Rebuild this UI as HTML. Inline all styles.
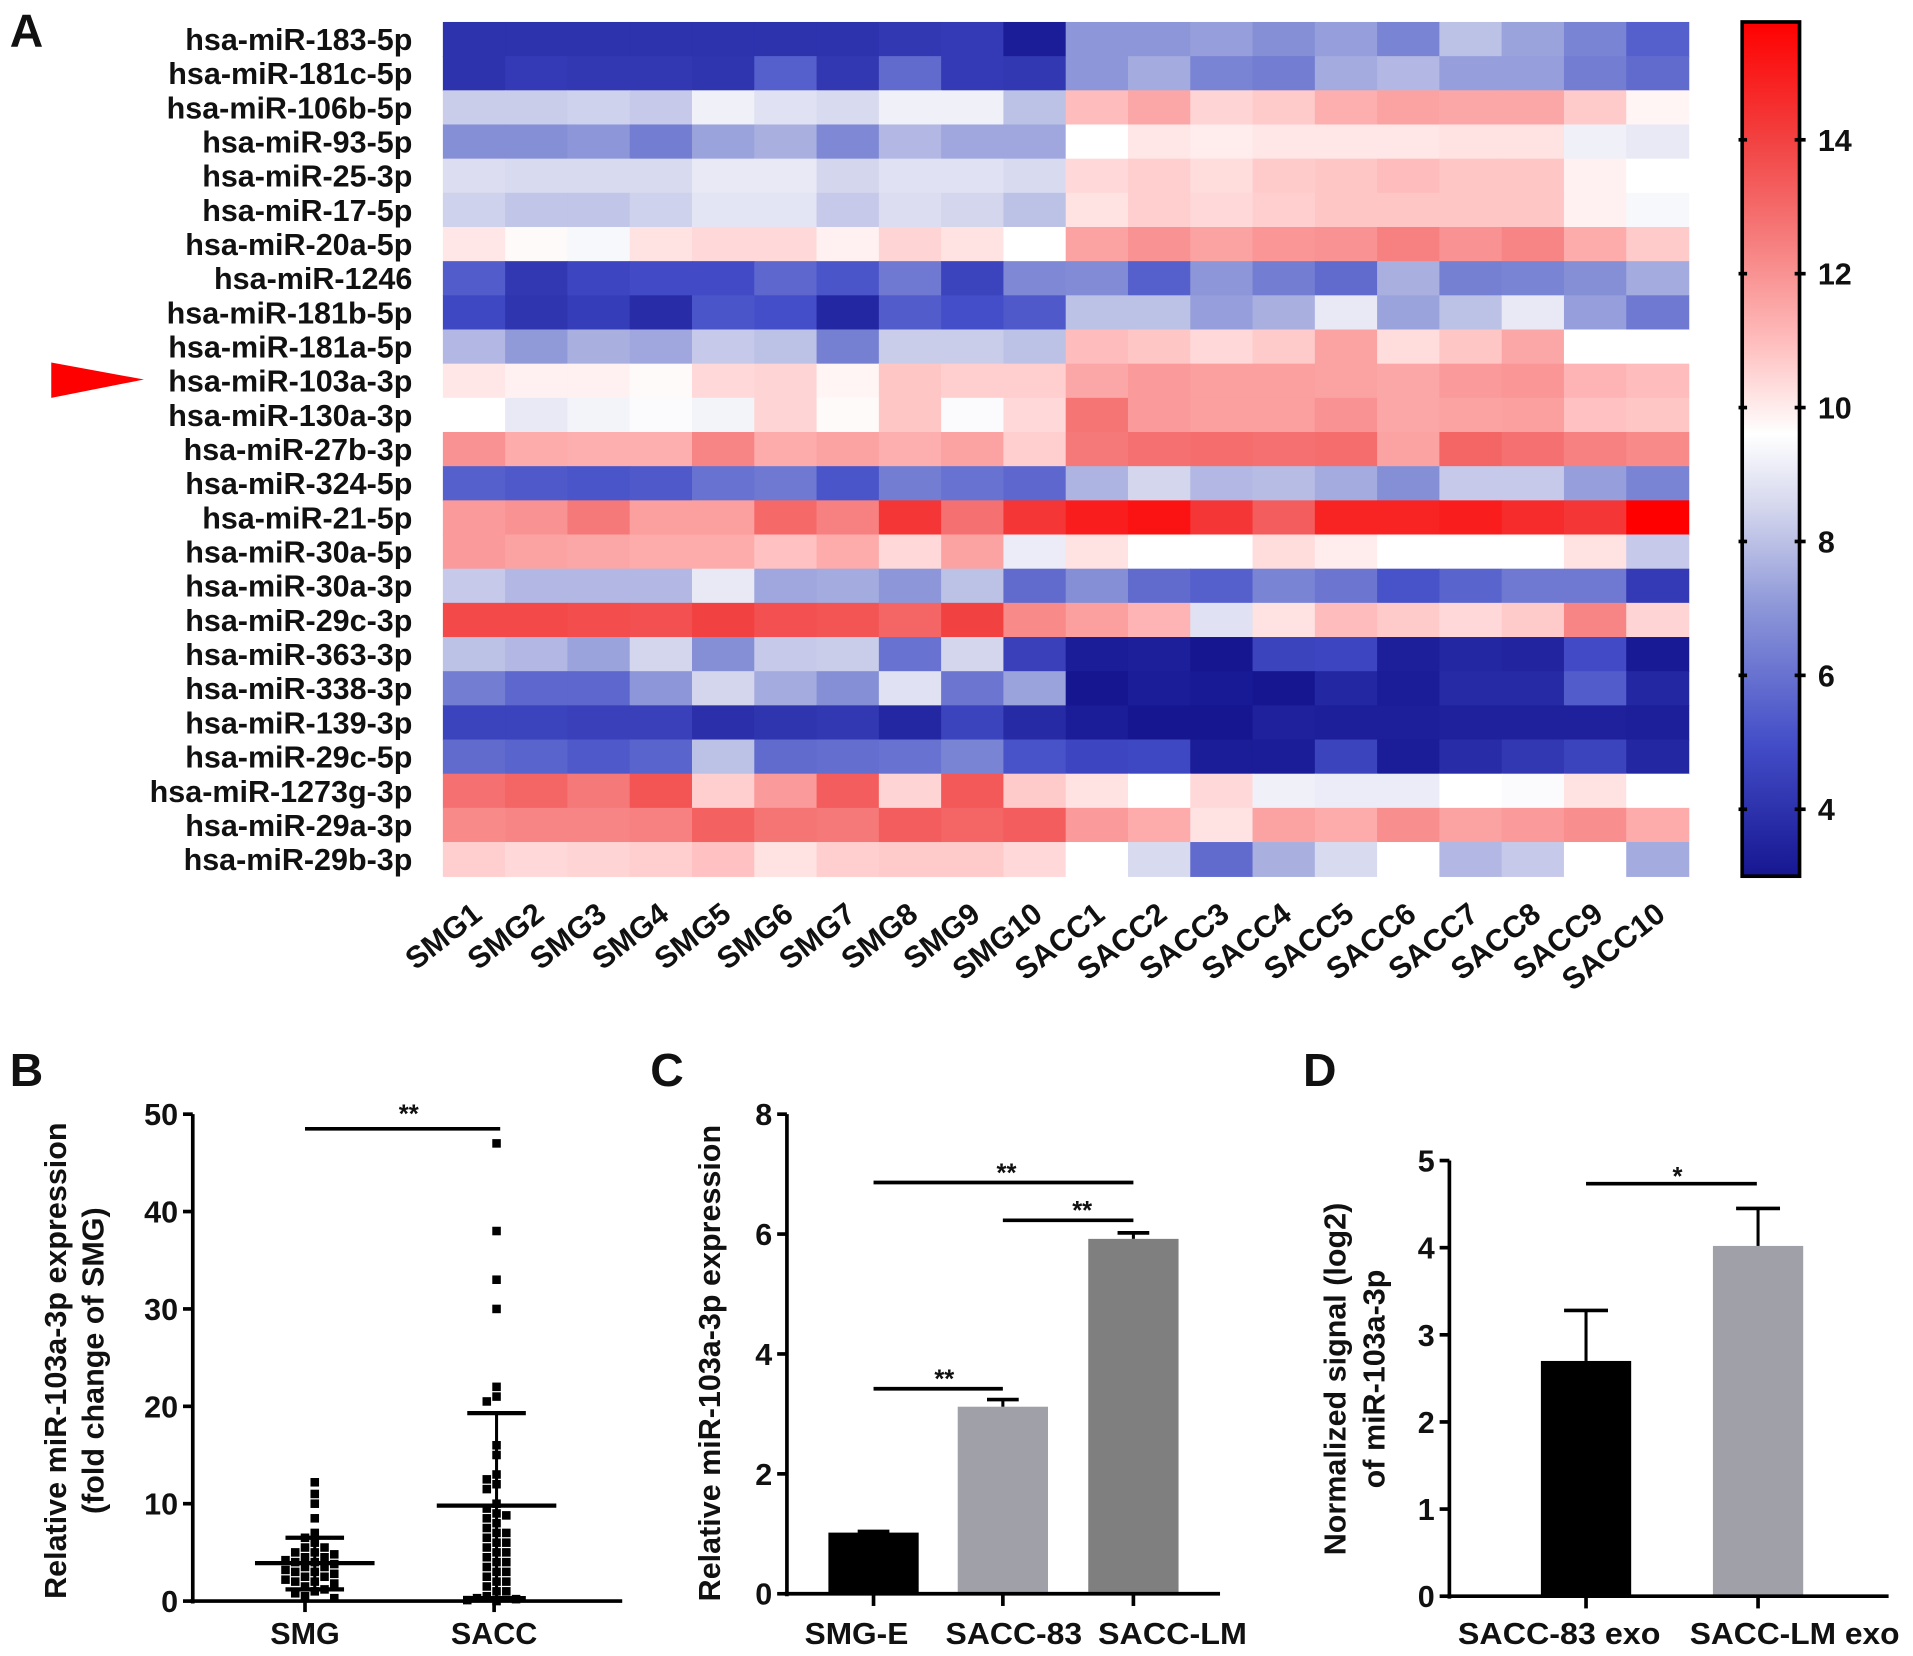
<!DOCTYPE html>
<html><head><meta charset="utf-8"><style>
html,body{margin:0;padding:0;background:#fff}
svg{display:block;font-family:"Liberation Sans",Arial,sans-serif}
</style></head><body>
<svg id="fig" width="1913" height="1656" viewBox="0 0 1568 1357" preserveAspectRatio="none" xmlns="http://www.w3.org/2000/svg"></svg>
<script>
const rowLabels=["hsa-miR-183-5p","hsa-miR-181c-5p","hsa-miR-106b-5p","hsa-miR-93-5p","hsa-miR-25-3p","hsa-miR-17-5p","hsa-miR-20a-5p","hsa-miR-1246","hsa-miR-181b-5p","hsa-miR-181a-5p","hsa-miR-103a-3p","hsa-miR-130a-3p","hsa-miR-27b-3p","hsa-miR-324-5p","hsa-miR-21-5p","hsa-miR-30a-5p","hsa-miR-30a-3p","hsa-miR-29c-3p","hsa-miR-363-3p","hsa-miR-338-3p","hsa-miR-139-3p","hsa-miR-29c-5p","hsa-miR-1273g-3p","hsa-miR-29a-3p","hsa-miR-29b-3p"];
const colLabels=["SMG1","SMG2","SMG3","SMG4","SMG5","SMG6","SMG7","SMG8","SMG9","SMG10","SACC1","SACC2","SACC3","SACC4","SACC5","SACC6","SACC7","SACC8","SACC9","SACC10"];
const heat=[
[4,4,4,4,4,4,4,4.2,4.3,3.2,7,7,7.2,6.8,7.2,6.5,8,7.3,6.5,5.5],
[4,4.3,4.2,4.2,4.1,5.5,4.2,5.8,4.3,4.2,7,7.5,6.5,6.3,7.5,7.8,7.2,7.2,6.3,5.8],
[8.3,8.3,8.4,8.2,9.2,8.8,8.6,9.2,9.2,8,11,11.5,10.5,10.7,11.3,11.6,11.5,11.5,10.7,9.8],
[6.8,6.8,7,6.3,7.3,7.6,6.6,7.8,7.4,7.4,9.6,10.1,10,10.1,10.1,10.1,10.2,10.2,9.2,9],
[8.7,8.6,8.6,8.6,9,9,8.5,8.8,8.8,8.6,10.4,10.6,10.3,10.7,10.8,11,10.8,10.8,9.9,9.6],
[8.4,8.1,8.1,8.4,8.9,8.9,8.2,8.7,8.5,8,10.2,10.6,10.4,10.6,10.8,10.8,10.8,10.8,9.9,9.4],
[10.1,9.7,9.4,10.2,10.4,10.4,9.9,10.5,10.2,9.6,11.6,12,11.6,11.9,12,12.4,12,12.3,11.4,10.7],
[5.4,4.2,4.7,4.9,4.9,5.7,5.2,6.2,4.6,6.6,6.7,5.5,7,6.3,5.8,7.6,6.4,6.5,6.8,7.5],
[4.8,4.1,4.4,3.8,5.2,5,3.6,5.4,5,5.3,8,8,7.2,7.6,9,7.3,8,9,7.2,6.2],
[7.8,7.1,7.6,7.4,8.2,8,6.4,8.3,8.3,8,11,10.8,10.4,10.7,11.6,10.3,10.8,11.5,9.6,9.6],
[10.1,9.9,9.9,9.7,10.4,10.5,9.8,10.8,10.6,10.6,11.5,11.8,11.7,11.7,11.6,11.5,11.8,11.9,11.2,11],
[9.6,9,9.3,9.5,9.3,10.5,9.7,10.8,9.5,10.4,12.7,11.8,11.7,11.7,12,11.5,11.6,11.7,10.9,10.8],
[12,11.4,11.3,11.3,12.3,11.4,11.6,11.3,11.6,10.6,12.6,12.8,12.9,12.8,12.9,11.6,13.1,12.8,12.4,12.2],
[5.5,5.3,5.2,5.3,6,6.2,5.2,6.3,6,5.7,7.7,8.5,7.8,7.9,7.5,6.8,8.2,8.2,7.2,6.5],
[11.8,12,12.6,11.7,11.7,13,12.4,14.3,12.8,14.3,15,15.3,14.3,13.3,14.8,14.8,15,14.6,14.3,15.8],
[11.8,11.6,11.5,11.4,11.4,10.9,11.4,10.4,11.6,9.1,10.2,9.6,9.6,10.3,10,9.6,9.6,9.6,10.2,8.2],
[8.2,7.8,7.8,7.8,9,7.4,7.5,7,8,5.8,6.8,5.8,5.5,6.5,6.1,5.1,5.6,6.2,6.2,4.3],
[13.8,13.8,13.7,13.6,14,13.6,13.5,13.1,14,12.2,11.7,11.2,8.8,10.2,11,10.7,10.4,10.7,12.3,10.5],
[8,7.8,7.3,8.5,6.8,8.2,8.3,6,8.5,4.5,3.2,3.3,3,4.6,4.7,3.3,3.6,3.5,4.9,3.1],
[6.3,5.7,5.7,7,8.5,7.5,6.8,8.8,6.1,7.3,3,3.2,3.1,3,3.6,3.2,3.7,3.7,5.4,3.6],
[4.6,4.6,4.5,4.5,3.9,4.1,4.2,3.6,4.6,3.7,3.2,3,3,3.4,3.3,3.3,3.4,3.4,3.4,3.3],
[5.8,5.6,5.3,5.6,8,5.8,5.9,6,6.5,5.1,4.7,4.8,3.2,3.2,4.6,3.2,3.8,4.2,4.6,3.6],
[12.8,13.1,12.6,13.5,10.6,11.8,13.3,10.5,13.4,10.7,10.2,9.6,10.4,9.2,9.1,9.1,9.6,9.5,10.2,9.6],
[12.2,12.3,12.3,12.4,13.2,12.7,12.6,13.3,13.1,13.3,11.8,11.4,10.2,11.6,11.4,12.1,11.6,11.8,12.1,11.4],
[10.6,10.4,10.5,10.6,10.9,10.2,10.6,10.7,10.7,10.4,9.6,8.6,5.8,7.6,8.6,9.6,7.8,8.2,9.6,7.5]];
const cbTicks=[4,6,8,10,12,14];
const smgVals=[12.2,11,10,8.5,7,6.5,6,5.5,5.5,5,5,4.8,4.5,4.5,4.2,4,4,3.8,3.5,3.5,3.2,3,3,2.8,2.5,2.5,2.2,2,2,1.8,1.5,1.2,1,0.8,0.5,0.3];
const saccVals=[47,38,33,30,22,21,20.5,16,15,13,12.5,12,11.5,10,9.5,9,8.8,8.5,8,7.5,7,7,6.5,6,6,5.5,5,5,4.5,4,4,3.5,3,3,2.5,2,2,1.5,1,1,0.5,0.3,0.2,0.1,0];
const bStats=[{mean:3.9,lo:1.2,hi:6.5},{mean:9.8,lo:0.3,hi:19.3}];
const bTicks=[0,10,20,30,40,50];
const cCats=["SMG-E","SACC-83","SACC-LM"];
const cVals=[1.02,3.12,5.92];
const cErr=[0.02,0.12,0.1];
const cTicks=[0,2,4,6,8];
const dCats=["SACC-83 exo","SACC-LM exo"];
const dVals=[2.7,4.02];
const dErr=[0.58,0.43];
const dTicks=[0,1,2,3,4,5];

const svg=document.getElementById('fig');const NS="http://www.w3.org/2000/svg";
function el(t,a,txt){const e=document.createElementNS(NS,t);for(const k in a)e.setAttribute(k,a[k]);if(txt!==undefined)e.textContent=txt;svg.appendChild(e);return e;}
function line(x1,y1,x2,y2,w,name){const e=el('line',{x1,y1,x2,y2,stroke:'#000','stroke-width':w||3});

return e;}
function text(x,y,s,o,name){const a=Object.assign({x,y,'font-size':24,'font-weight':'bold',fill:'#111'},o||{});const e=el('text',a,s);

return e;}
const stops=[[3,[22,22,145]],[5,[68,78,200]],[7,[140,150,216]],[8.5,[212,214,237]],[9.6,[255,255,255]],[11,[255,188,188]],[12.5,[246,125,125]],[14,[242,65,65]],[15.8,[255,0,0]]];
function color(v){if(v<=stops[0][0])return 'rgb('+stops[0][1]+')';for(let i=1;i<stops.length;i++){if(v<=stops[i][0]){const t=(v-stops[i-1][0])/(stops[i][0]-stops[i-1][0]);const a=stops[i-1][1],b=stops[i][1];return 'rgb('+a.map((c,j)=>Math.round(c+(b[j]-c)*t)).join(',')+')';}}return 'rgb(255,0,0)';}
[['A',8,38],['B',8,890],['C',533,890],['D',1068,890]].forEach(p=>text(p[1],p[2],p[0],{'font-size':38},'panel-letter-'+p[0].toLowerCase()));
const hx0=363,hx1=1384,hy0=18,hy1=718;
const cw=(hx1-hx0)/colLabels.length,rh=(hy1-hy0)/rowLabels.length;
heat.forEach((row,r)=>row.forEach((v,c)=>{const e=el('rect',{x:hx0+c*cw,y:hy0+r*rh,width:cw+0.6,height:rh+0.6,fill:color(v)});

}));
rowLabels.forEach((s,r)=>text(338,hy0+r*rh+rh/2+9,s,{'text-anchor':'end','font-size':25},'row-label'));
colLabels.forEach((s,c)=>{const x=hx0+c*cw+cw/2+8,y=752;text(x,y,s,{'text-anchor':'end',transform:`rotate(-38 ${x} ${y})`,'font-size':25},'column-label');});
const ar=el('polygon',{points:'42,297 42,326 118,311',fill:'#f00'});


const cbx=1428,cbw=47,vmin=3,vmax=15.76;
const cby=v=>hy1-(v-vmin)/(vmax-vmin)*(hy1-hy0);
const defs=el('defs',{});const g=document.createElementNS(NS,'linearGradient');g.setAttribute('id','cbg');g.setAttribute('x1','0');g.setAttribute('y1','1');g.setAttribute('x2','0');g.setAttribute('y2','0');defs.appendChild(g);
stops.forEach(s=>{const st=document.createElementNS(NS,'stop');st.setAttribute('offset',Math.min(1,(s[0]-vmin)/(vmax-vmin)));st.setAttribute('stop-color',color(s[0]));g.appendChild(st);});
const cb=el('rect',{x:cbx,y:hy0,width:cbw,height:hy1-hy0,fill:'url(#cbg)',stroke:'#000','stroke-width':3});


cbTicks.forEach(t=>{const y=cby(t);line(cbx-3,y,cbx+4,y,3,'colorbar-tick');line(cbx+cbw-4,y,cbx+cbw+5,y,3,'colorbar-tick');text(1490,y+9,String(t),{'font-size':25},'colorbar-tick-label');});
// Panel B
const bx0=158,bxe=510,by0=1312,byT=913;
const bY=v=>by0-v/50*(by0-byT);
line(bx0,byT,bx0,by0+2,3,'b-y-axis');line(bx0-2,by0,bxe,by0,3,'b-x-axis');
bTicks.forEach(t=>{line(bx0-8,bY(t),bx0,bY(t),3,'b-y-tick');text(bx0-12,bY(t)+9,String(t),{'text-anchor':'end','font-size':25},'b-y-tick-label');});
const bCenters=[258,407];
[['SMG',250],['SACC',405]].forEach(p=>{line(p[1],by0,p[1],by0+9,3,'b-x-tick');text(p[1],1347,p[0],{'text-anchor':'middle','font-size':25},'b-x-label');});
[smgVals,saccVals].forEach((vals,gi)=>{const cx=bCenters[gi];const placed=[];
vals.forEach(v=>{const y=bY(v);let k=0,x=cx;const offs=[0,-8,8,-16,16,-24,24,-32,32,-40,40];
for(k=0;k<offs.length;k++){x=cx+offs[k];if(!placed.some(p=>Math.abs(p[0]-x)<7.5&&Math.abs(p[1]-y)<7.5))break;}
placed.push([x,y]);const e=el('rect',{x:x-3.5,y:y-3.5,width:7,height:7,fill:'#000'});

});
const s=bStats[gi];line(cx-49,bY(s.mean),cx+49,bY(s.mean),3.5,'mean-line');line(cx,bY(s.lo),cx,bY(s.hi),2.5,'sd-bar');line(cx-24,bY(s.lo),cx+24,bY(s.lo),3.5,'sd-cap');line(cx-24,bY(s.hi),cx+24,bY(s.hi),3.5,'sd-cap');});
line(250,925,410,925,3,'b-significance-bar');text(335,920,'**',{'text-anchor':'middle','font-size':21},'b-significance-label');
text(54,1115,'Relative miR-103a-3p expression',{'text-anchor':'middle',transform:'rotate(-90 54 1115)','font-size':25},'b-y-title');
text(85,1115,'(fold change of SMG)',{'text-anchor':'middle',transform:'rotate(-90 85 1115)','font-size':25},'b-y-title-2');
// Panel C
const cx0=645,cxe=1000,cy0=1306,cyT=913;const cY=v=>cy0-v/8*(cy0-cyT);
const cX=[716,822,929],cCol=['#000','#a0a0a8','#7f7f7f'];
const cLabX=[702,831,961],cLabW=[85,112,122];
cVals.forEach((v,i)=>{const e=el('rect',{x:cX[i]-37,y:cY(v),width:74,height:cy0-cY(v),fill:cCol[i]});


line(cX[i],cY(v),cX[i],cY(v+cErr[i]),2.5,'c-error-bar');line(cX[i]-13,cY(v+cErr[i]),cX[i]+13,cY(v+cErr[i]),3,'c-error-cap');
line(cX[i],cy0,cX[i],cy0+10,3,'c-x-tick');text(cLabX[i],1347,cCats[i],{'text-anchor':'middle','font-size':25,textLength:cLabW[i],lengthAdjust:'spacingAndGlyphs'},'c-x-label');});
line(cx0,cyT,cx0,cy0+2,3,'c-y-axis');line(cx0-2,cy0,cxe,cy0,3,'c-x-axis');
cTicks.forEach(t=>{line(cx0-8,cY(t),cx0,cY(t),3,'c-y-tick');text(cx0-12,cY(t)+9,String(t),{'text-anchor':'end','font-size':25},'c-y-tick-label');});
line(716,1138,822,1138,3,'c-significance-bar');text(774,1137,'**',{'text-anchor':'middle','font-size':21},'c-significance-label');
line(822,1000,929,1000,3,'c-significance-bar');text(887,999,'**',{'text-anchor':'middle','font-size':21},'c-significance-label');
line(716,969,929,969,3,'c-significance-bar');text(825,968,'**',{'text-anchor':'middle','font-size':21},'c-significance-label');
text(590,1117,'Relative miR-103a-3p expression',{'text-anchor':'middle',transform:'rotate(-90 590 1117)','font-size':25},'c-y-title');
// Panel D
const dx0=1188,dxe=1548,dy0=1308,dyT=951;const dY=v=>dy0-v/5*(dy0-dyT);
const dX=[1300,1441],dCol=['#000','#a0a0a8'];
const dLabX=[1278,1471],dLabW=[166,172];
dVals.forEach((v,i)=>{const e=el('rect',{x:dX[i]-37,y:dY(v),width:74,height:dy0-dY(v),fill:dCol[i]});


line(dX[i],dY(v),dX[i],dY(v+dErr[i]),2.5,'d-error-bar');line(dX[i]-18,dY(v+dErr[i]),dX[i]+18,dY(v+dErr[i]),3,'d-error-cap');
line(dX[i],dy0,dX[i],dy0+10,3,'d-x-tick');text(dLabX[i],1347,dCats[i],{'text-anchor':'middle','font-size':25,textLength:dLabW[i],lengthAdjust:'spacingAndGlyphs'},'d-x-label');});
line(dx0,dyT,dx0,dy0+2,3,'d-y-axis');line(dx0-2,dy0,dxe,dy0,3,'d-x-axis');
dTicks.forEach(t=>{line(dx0-8,dY(t),dx0,dY(t),3,'d-y-tick');text(dx0-12,dY(t)+9,String(t),{'text-anchor':'end','font-size':25},'d-y-tick-label');});
line(1300,970,1440,970,3,'d-significance-bar');text(1375,971,'*',{'text-anchor':'middle','font-size':21},'d-significance-label');
text(1103,1130,'Normalized signal (log2)',{'text-anchor':'middle',transform:'rotate(-90 1103 1130)','font-size':25},'d-y-title');
text(1135,1130,'of miR-103a-3p',{'text-anchor':'middle',transform:'rotate(-90 1135 1130)','font-size':25},'d-y-title-2');
</script>
</body></html>
